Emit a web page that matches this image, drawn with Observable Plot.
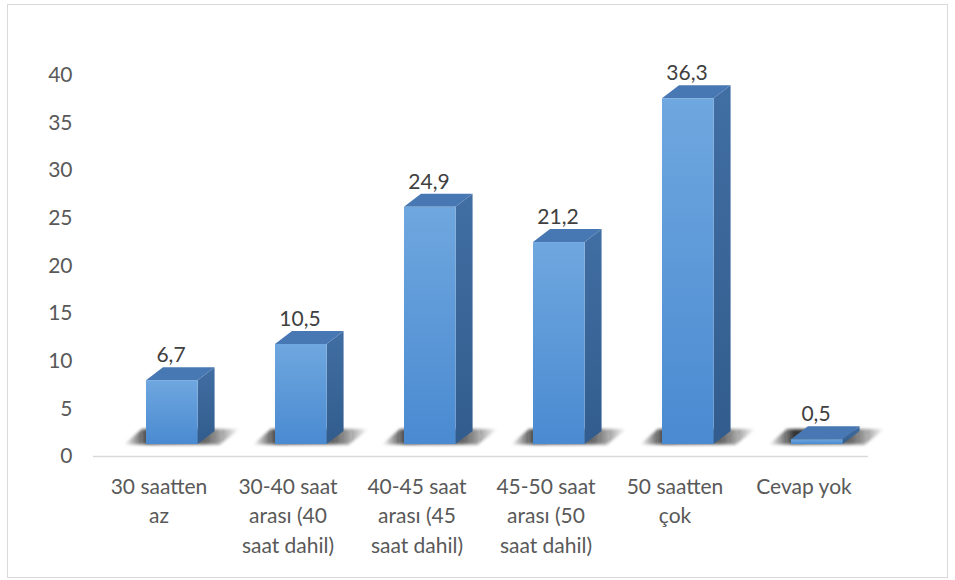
<!DOCTYPE html>
<html>
<head>
<meta charset="utf-8">
<script src="https://cdn.jsdelivr.net/npm/d3@7"></script>
<script src="https://cdn.jsdelivr.net/npm/@observablehq/plot@0.6"></script>
<style>
  body { margin: 0; background: #ffffff; }
  #frame { position: absolute; left: 7px; top: 4px; width: 941px; height: 574px; border: 1.5px solid #d9d9d9; box-sizing: border-box; }
  #chart { position: absolute; left: 0; top: 0; }
</style>
</head>
<body>
<div id="frame"></div>
<div id="chart"></div>
<script>
// Weekly working hours (percent of respondents)
const categories = ["30 saatten az", "30-40 saat arası", "40-45 saat arası", "45-50 saat arası", "50 saatten çok", "Cevap yok"];
const tickLabels = ["30 saatten\naz", "30-40 saat\narası (40\nsaat dahil)", "40-45 saat\narası (45\nsaat dahil)", "45-50 saat\narası (50\nsaat dahil)", "50 saatten\nçok", "Cevap yok"];
const shares = [6.7, 10.5, 24.9, 21.2, 36.3, 0.5];
const valueLabels = ["6,7", "10,5", "24,9", "21,2", "36,3", "0,5"];
const yTicks = [0, 5, 10, 15, 20, 25, 30, 35, 40];

const rows = categories.map((category, i) => ({
  category,
  share: shares[i],
  label: valueLabels[i],
  tick: tickLabels[i]
}));

// 3D column styling (pixels)
const FACE = 0.4;     // front face width as a fraction of the band
const SHIFT = 0.103;  // front face offset to the right, fraction of the band
const LIFT = 12;      // floor lift of the front face
const DX = 17, DY = 13; // depth of the column

function columns3d(index, scales) {
  const x = scales.x, y = scales.y;
  const bw = x.bandwidth();
  const g = d3.create("svg:g");
  const defs = g.append("defs");

  const front = defs.append("linearGradient").attr("id", "col-front").attr("x1", 0).attr("y1", 0).attr("x2", 0).attr("y2", 1);
  front.append("stop").attr("offset", "0%").attr("stop-color", "#6fa7df");
  front.append("stop").attr("offset", "100%").attr("stop-color", "#4a8ad1");

  const side = defs.append("linearGradient").attr("id", "col-side").attr("x1", 0).attr("y1", 0).attr("x2", 0).attr("y2", 1);
  side.append("stop").attr("offset", "0%").attr("stop-color", "#416ea3");
  side.append("stop").attr("offset", "100%").attr("stop-color", "#315c8d");

  const shade = defs.append("linearGradient").attr("id", "col-shadow").attr("x1", 0).attr("y1", 0).attr("x2", 1).attr("y2", 0);
  shade.append("stop").attr("offset", "0%").attr("stop-color", "#000").attr("stop-opacity", 0);
  shade.append("stop").attr("offset", "22%").attr("stop-color", "#111").attr("stop-opacity", 0.85);
  shade.append("stop").attr("offset", "70%").attr("stop-color", "#222").attr("stop-opacity", 0.7);
  shade.append("stop").attr("offset", "100%").attr("stop-color", "#000").attr("stop-opacity", 0);

  const blur = defs.append("filter").attr("id", "col-blur").attr("x", "-20%").attr("y", "-50%").attr("width", "140%").attr("height", "200%");
  blur.append("feGaussianBlur").attr("stdDeviation", 1.6);

  const geom = Array.from(index, (i) => {
    const d = rows[i];
    const w = bw * FACE;
    const xl = x(d.category) + bw / 2 + bw * SHIFT - w / 2;
    const xr = xl + w;
    const yb = y(0) - LIFT;
    const yt = y(d.share) - LIFT;
    return {xl, xr, yb, yt};
  });

  // floor shadows
  for (const {xl, xr, yb} of geom) {
    g.append("polygon")
      .attr("points", [[xl - 22, yb + 0.5], [xr + 22, yb + 0.5], [xr + 42, yb - DY - 2], [xl - 4, yb - DY - 2]].map((p) => p.join(",")).join(" "))
      .attr("fill", "url(#col-shadow)")
      .attr("filter", "url(#col-blur)");
  }

  for (const {xl, xr, yb, yt} of geom) {
    g.append("polygon")
      .attr("points", [[xr, yb], [xr + DX, yb - DY], [xr + DX, yt - DY], [xr, yt]].map((p) => p.join(",")).join(" "))
      .attr("fill", "url(#col-side)");
    g.append("polygon")
      .attr("points", [[xl, yt], [xr, yt], [xr + DX, yt - DY], [xl + DX, yt - DY]].map((p) => p.join(",")).join(" "))
      .attr("fill", "#4878b3");
    g.append("rect")
      .attr("x", xl).attr("y", yt)
      .attr("width", xr - xl).attr("height", Math.max(0, yb - yt))
      .attr("fill", "url(#col-front)");
  }
  return g.node();
}

const chart = Plot.plot({
  width: 955,
  height: 580,
  marginLeft: 93,
  marginRight: 87,
  marginTop: 75,
  marginBottom: 124,
  style: { fontFamily: "Lato, 'Open Sans', sans-serif", fontSize: "21px", color: "#595959", background: "transparent", overflow: "visible" },
  x: { domain: categories, padding: 0, label: null },
  y: { domain: [0, 40], label: null },
  marks: [
    Plot.ruleY([0], { stroke: "#d9d9d9", strokeWidth: 1.5 }),
    Plot.barY(rows, { x: "category", y: "share", render: columns3d }),
    Plot.text(rows, { x: "category", y: "share", text: "label", dx: 12, dy: -37, fontSize: 21, fill: "#404040" }),
    Plot.axisY({ ticks: yTicks, tickSize: 0, tickPadding: 21, fontSize: 21, fill: "#595959", label: null }),
    Plot.axisX({ tickSize: 0, tickPadding: 16, fontSize: 21, fill: "#595959", lineHeight: 1.41, label: null,
      tickFormat: (c) => tickLabels[categories.indexOf(c)] })
  ]
});

document.getElementById("chart").append(chart);
</script>
</body>
</html>
